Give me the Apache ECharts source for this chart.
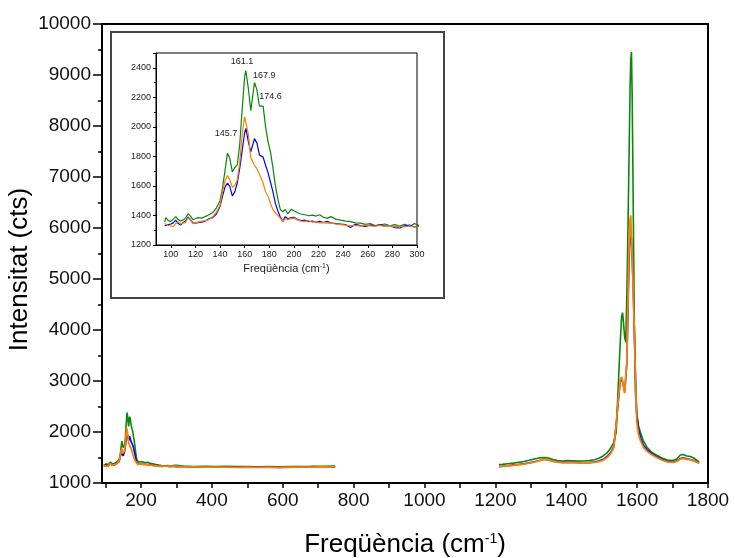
<!DOCTYPE html>
<html>
<head>
<meta charset="utf-8">
<script src="https://cdn.jsdelivr.net/npm/echarts@6/dist/echarts.min.js"></script>
<style>
  html, body { margin: 0; padding: 0; background: #fff; }
  #chart { width: 735px; height: 558px; }
</style>
</head>
<body>
<div id="chart"></div>
<script>
// low frequency part of the spectrum (cm-1)
var lowX = [
  95, 96, 98, 100, 102, 104, 106, 108, 110, 112,
  114, 116, 118, 120, 122, 125, 128, 131, 134, 137,
  140, 142, 144, 146, 148, 150, 152, 154, 156, 158,
  160, 161, 163, 165, 168, 170, 172, 175, 177, 179,
  181, 183, 185, 187, 189, 191, 193, 195, 198, 200,
  203, 206, 209, 212, 215, 218, 221, 224, 227, 230,
  234, 238, 242, 246, 250, 254, 258, 262, 266, 270,
  274, 278, 282, 286, 290, 294, 298, 302, 320, 350,
  380, 410, 440, 470, 500, 530, 560, 590, 620, 650,
  680, 710, 748
];
var lowGreen = [
  1355, 1385, 1365, 1360, 1375, 1392, 1372, 1362, 1370, 1382,
  1412, 1395, 1372, 1378, 1385, 1382, 1392, 1405, 1418, 1450,
  1500, 1585, 1700, 1822, 1785, 1695, 1725, 1742, 1880, 2120,
  2340, 2380, 2260, 2110, 2300, 2250, 2140, 2140, 2000, 1900,
  1830, 1720, 1600, 1510, 1440, 1425, 1440, 1412, 1442, 1432,
  1418, 1410, 1405, 1398, 1402, 1396, 1405, 1388, 1380, 1392,
  1375, 1368, 1362, 1358, 1350, 1348, 1340, 1345, 1332, 1336,
  1342, 1330, 1338, 1328, 1340, 1325, 1345, 1332, 1330, 1325,
  1328, 1325, 1327, 1322, 1324, 1320, 1323, 1319, 1322, 1325,
  1326, 1328, 1330
];
var lowBlue = [
  1330, 1328, 1338, 1342, 1350, 1368, 1345, 1335, 1352, 1362,
  1390, 1372, 1350, 1348, 1352, 1355, 1362, 1378, 1385, 1410,
  1460, 1530, 1590, 1620, 1595, 1532, 1560, 1620, 1720, 1840,
  1960, 1990, 1900, 1830, 1920, 1890, 1810, 1795, 1740, 1690,
  1625, 1560, 1480, 1430, 1390, 1360, 1392, 1378, 1385, 1388,
  1372, 1365, 1368, 1358, 1362, 1355, 1360, 1352, 1360, 1350,
  1345, 1342, 1338, 1318, 1340, 1332, 1325, 1335, 1330, 1336,
  1328, 1332, 1318, 1315, 1330, 1335, 1322, 1328, 1318, 1315,
  1312, 1310, 1313, 1309, 1312, 1308, 1311, 1307, 1310, 1312,
  1313, 1315, 1316
];
var lowOrange = [
  1345, 1338, 1332, 1330, 1325, 1345, 1358, 1342, 1348, 1352,
  1385, 1368, 1345, 1350, 1355, 1360, 1365, 1372, 1392, 1420,
  1470, 1560, 1630, 1670, 1640, 1590, 1605, 1640, 1760, 1950,
  2070, 2080, 1950, 1790, 1740, 1715, 1680, 1620, 1560, 1530,
  1480, 1440, 1420, 1400, 1380, 1360, 1378, 1372, 1380, 1382,
  1370, 1362, 1360, 1364, 1355, 1358, 1350, 1352, 1348, 1350,
  1342, 1338, 1335, 1330, 1332, 1328, 1335, 1330, 1328, 1332,
  1326, 1330, 1325, 1328, 1322, 1330, 1320, 1325, 1318, 1315,
  1312, 1310, 1312, 1308, 1311, 1308, 1310, 1306, 1309, 1311,
  1312, 1314, 1315
];

// high frequency part (D / G bands)
var highX = [
  1210, 1220, 1235, 1250, 1265, 1280, 1295, 1310, 1325, 1338,
  1350, 1362, 1375, 1390, 1405, 1420, 1435, 1450, 1465, 1480,
  1492, 1504, 1515, 1525, 1534, 1541, 1547, 1552, 1556, 1559,
  1562, 1565, 1568, 1571, 1574, 1577, 1580, 1582, 1584, 1586,
  1588, 1590, 1592, 1595, 1599, 1604, 1610, 1618, 1628, 1640,
  1655, 1670, 1685, 1700, 1712, 1722, 1730, 1740, 1750, 1760,
  1768, 1775
];
var highGreen = [
  1360, 1365, 1378, 1390, 1405, 1422, 1445, 1470, 1492, 1500,
  1490, 1460, 1442, 1432, 1438, 1434, 1428, 1430, 1438, 1455,
  1485, 1530, 1590, 1680, 1790, 2000, 2950, 3700, 4250, 4340,
  4100, 3850, 3760, 4700, 5900, 7300, 8700, 9300, 9450, 8600,
  7200, 5700, 4200, 2800, 2350, 2120, 1980, 1820, 1700, 1610,
  1545, 1490, 1450, 1440, 1470, 1550, 1560, 1530, 1520, 1490,
  1450, 1415
];
var highBlue = [
  1322, 1328, 1338, 1350, 1362, 1378, 1395, 1415, 1442, 1468,
  1452, 1428, 1412, 1404, 1408, 1405, 1400, 1396, 1400, 1412,
  1430, 1460, 1520, 1590, 1710, 2150, 2600, 2980, 3040, 2980,
  2880, 2800, 2820, 3350, 4300, 5300, 5900, 6050, 5750, 5400,
  5000, 4550, 4050, 3200, 2350, 2050, 1880, 1740, 1650, 1580,
  1515, 1462, 1425, 1412, 1430, 1480, 1495, 1475, 1462, 1442,
  1415, 1392
];
var highOrange = [
  1320, 1325, 1335, 1345, 1358, 1372, 1390, 1410, 1438, 1470,
  1455, 1425, 1410, 1400, 1405, 1402, 1398, 1392, 1395, 1405,
  1420, 1445, 1500, 1570, 1690, 2150, 2650, 3020, 3080, 3000,
  2850, 2760, 2780, 3400, 4500, 5600, 6150, 6250, 5800, 5450,
  5000, 4500, 4000, 3100, 2200, 1950, 1820, 1700, 1620, 1560,
  1500, 1450, 1415, 1405, 1420, 1470, 1482, 1465, 1455, 1435,
  1410, 1385
];

// ticks / labels
var mainXTicks = [100, 200, 300, 400, 500, 600, 700, 800, 900, 1000, 1100, 1200, 1300, 1400, 1500, 1600, 1700, 1800];
var mainXLabels = [200, 400, 600, 800, 1000, 1200, 1400, 1600, 1800];
var insetXTicks = [100, 120, 140, 160, 180, 200, 220, 240, 260, 280, 300];
var insetYLabels = [1200, 1400, 1600, 1800, 2000, 2200, 2400];

// peak labels in the inset
var peakX = [145.7, 161.1, 167.9, 174.6];
var peakY = [1822, 2380, 2300, 2140];

var colGreen = '#0b870b';
var colBlue = '#0000ff';
var colOrange = '#ff8000';
var font = 'Liberation Sans, Arial, sans-serif';

function pairs(xs, ys) {
  return xs.map(function (x, i) { return [x, ys[i]]; });
}
function joined(lowY, highY) {
  // null point breaks the line between 750 and 1210
  return pairs(lowX, lowY).concat([[980, null]]).concat(pairs(highX, highY));
}
function plain(v) { return String(v); } // no thousands separator

var peakOffsets = [[-1, -10], [-4, 0], [10, 2], [8, 0]];
var peakMarks = peakX.map(function (x, i) {
  return {
    name: String(x),
    coord: [x, peakY[i]],
    label: { offset: peakOffsets[i] }
  };
});

var myChart = echarts.init(document.getElementById('chart'));
var option = {
  animation: false,
  textStyle: { fontFamily: font },
  grid: [
    { left: 102, right: 27, top: 24, bottom: 75, containLabel: false, outerBoundsMode: 'none', show: true, borderColor: '#000', borderWidth: 2 },
    { left: 156, top: 53, width: 261, height: 192, containLabel: false, outerBoundsMode: 'none', show: true, borderColor: '#000', borderWidth: 1 }
  ],
  graphic: [
    {
      type: 'rect',
      z: -1,
      shape: { x: 111, y: 32, width: 333, height: 266 },
      style: { fill: '#fff', stroke: '#444', lineWidth: 2 }
    }
  ],
  xAxis: [
    {
      type: 'value', gridIndex: 0, min: 90, max: 1800,
      name: 'Freqüència (cm{sup|-1})',
      nameLocation: 'middle', nameGap: 49, nameMoveOverlap: false,
      nameTextStyle: {
        fontSize: 26, color: '#000', fontFamily: font,
        rich: { sup: { fontSize: 14, verticalAlign: 'top', color: '#000', fontFamily: font } }
      },
      splitLine: { show: false },
      axisLine: { lineStyle: { color: '#000', width: 2 } },
      axisTick: { customValues: mainXTicks, length: 5, lineStyle: { color: '#000', width: 1.5 } },
      axisLabel: { customValues: mainXLabels, fontSize: 19, color: '#111', margin: 8, formatter: plain }
    },
    {
      type: 'value', gridIndex: 1, min: 88, max: 300,
      name: 'Freqüència (cm{sup|-1})',
      nameLocation: 'middle', nameGap: 18, nameMoveOverlap: false,
      nameTextStyle: {
        fontSize: 11, color: '#222', fontFamily: font,
        rich: { sup: { fontSize: 7, verticalAlign: 'top', color: '#222', fontFamily: font } }
      },
      splitLine: { show: false },
      axisLine: { lineStyle: { color: '#000', width: 1 } },
      axisTick: { customValues: insetXTicks, length: 3, lineStyle: { color: '#000' } },
      axisLabel: { customValues: insetXTicks, fontSize: 9, color: '#222', margin: 5, formatter: plain }
    }
  ],
  yAxis: [
    {
      type: 'value', gridIndex: 0, min: 1000, max: 10000, interval: 1000,
      name: 'Intensitat (cts)',
      nameLocation: 'middle', nameGap: 69, nameMoveOverlap: false,
      nameTextStyle: { fontSize: 26, color: '#000', padding: [0, 32, 0, 0] },
      splitLine: { show: false },
      axisLine: { lineStyle: { color: '#000', width: 2 } },
      axisTick: { length: 9, lineStyle: { color: '#000', width: 1.5 } },
      minorTick: { show: true, splitNumber: 2, length: 4, lineStyle: { color: '#000', width: 1.5 } },
      axisLabel: { fontSize: 19, color: '#111', margin: 11, formatter: plain }
    },
    {
      type: 'value', gridIndex: 1, min: 1200, max: 2500, interval: 200,
      splitLine: { show: false },
      axisLine: { lineStyle: { color: '#000', width: 1 } },
      axisTick: { length: 3, lineStyle: { color: '#000' } },
      minorTick: { show: true, splitNumber: 2, length: 2, lineStyle: { color: '#000' } },
      axisLabel: { customValues: insetYLabels, fontSize: 9, color: '#222', margin: 5, formatter: plain }
    }
  ],
  series: [
    { type: 'line', xAxisIndex: 0, yAxisIndex: 0, data: joined(lowGreen, highGreen), showSymbol: false, symbol: 'none', lineStyle: { color: colGreen, width: 1.6 } },
    { type: 'line', xAxisIndex: 0, yAxisIndex: 0, data: joined(lowBlue, highBlue), showSymbol: false, symbol: 'none', lineStyle: { color: colBlue, width: 1.6 } },
    { type: 'line', xAxisIndex: 0, yAxisIndex: 0, data: joined(lowOrange, highOrange), showSymbol: false, symbol: 'none', lineStyle: { color: colOrange, width: 1.8 } },
    {
      type: 'line', xAxisIndex: 1, yAxisIndex: 1, data: pairs(lowX, lowGreen), showSymbol: false, symbol: 'none',
      lineStyle: { color: colGreen, width: 1.2 },
      markPoint: {
        symbol: 'circle', symbolSize: 0,
        label: { show: true, position: 'top', fontSize: 9, color: '#222', formatter: function (p) { return p.name; } },
        data: peakMarks
      }
    },
    { type: 'line', xAxisIndex: 1, yAxisIndex: 1, data: pairs(lowX, lowBlue), showSymbol: false, symbol: 'none', lineStyle: { color: colBlue, width: 1.2 } },
    { type: 'line', xAxisIndex: 1, yAxisIndex: 1, data: pairs(lowX, lowOrange), showSymbol: false, symbol: 'none', lineStyle: { color: colOrange, width: 1.2 } }
  ]
};
myChart.setOption(option);
</script>
</body>
</html>
